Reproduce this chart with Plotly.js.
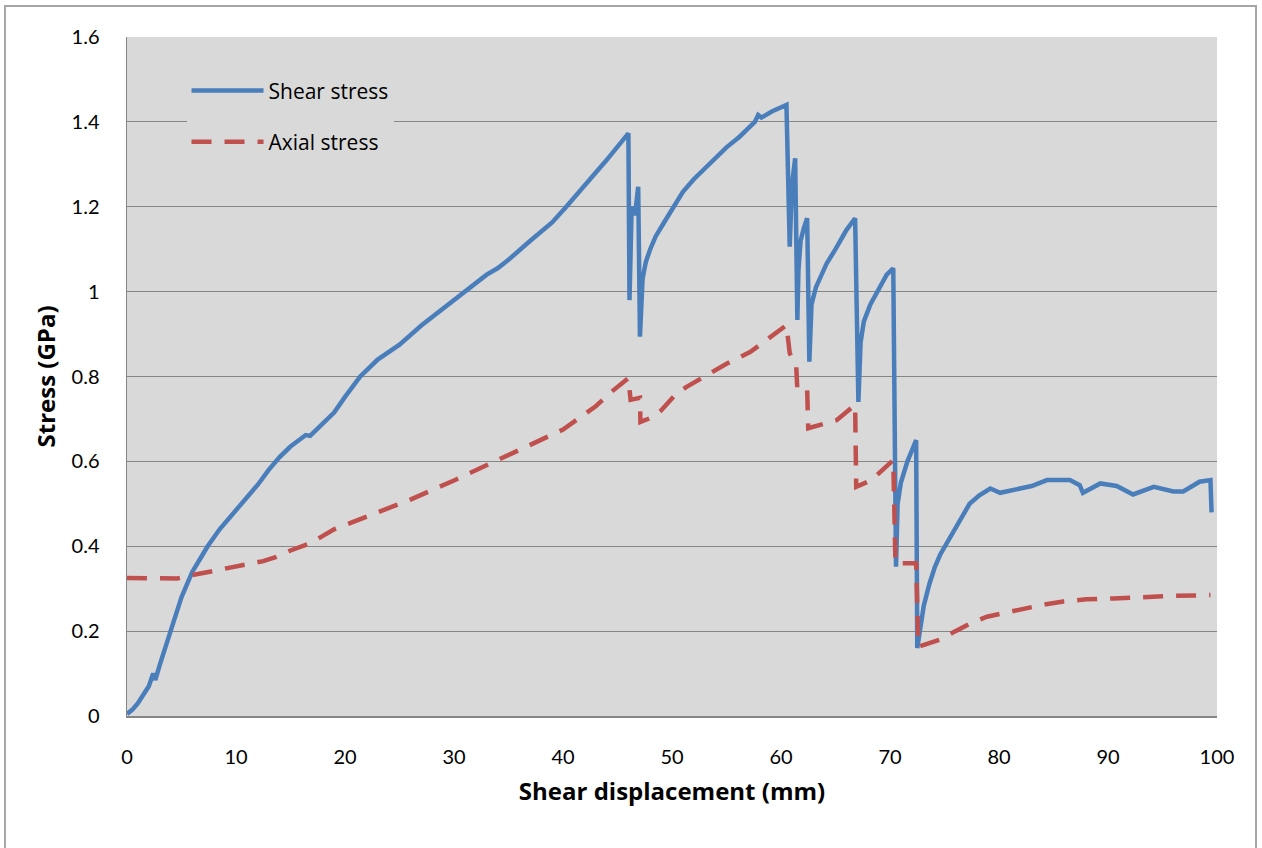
<!DOCTYPE html>
<html>
<head>
<meta charset="utf-8">
<script src="https://cdn.plot.ly/plotly-3.0.1.min.js"></script>
<style>
html,body{margin:0;padding:0;background:#fff;}
#chart{width:1262px;height:848px;}
</style>
</head>
<body>
<div id="chart"></div>
<script>
// Shear stress (GPa) vs shear displacement (mm)
const shearX = [0, 0.5, 1, 1.5, 2, 2.4, 2.6, 3, 3.5, 3.9, 4.5, 5, 5.5, 6, 6.7, 7.4, 8.5, 10, 11, 12, 13, 14, 15, 16.4, 16.8, 18, 19, 20, 21.4, 23, 25, 27, 29, 31, 33, 34, 35, 37, 39, 40.3, 42, 44, 46.0, 46.1, 46.3, 46.6, 46.9, 47.06, 47.3, 47.6, 48, 48.5, 49.2, 50, 51, 52, 53, 54, 55, 56.2, 57.6, 57.9, 58.2, 59.2, 60.5, 60.8, 61.0, 61.3, 61.5, 61.6, 61.8, 62.1, 62.4, 62.6, 62.8, 63.2, 63.7, 64.2, 65, 66, 66.8, 67.1, 67.3, 67.6, 68.2, 69, 69.7, 70.3, 70.55, 70.7, 71, 71.6, 72.1, 72.4, 72.5, 72.8, 73.1, 73.6, 74.1, 74.6, 75.5, 76.4, 77.3, 78.2, 79.2, 80.1, 81.9, 83, 84.4, 86.5, 87.4, 87.7, 89.3, 90.8, 92.3, 94.2, 96.0, 96.9, 98.4, 99.4, 99.5];
const shearY = [0.005, 0.015, 0.03, 0.05, 0.07, 0.1, 0.085, 0.12, 0.16, 0.2, 0.245, 0.28, 0.31, 0.34, 0.37, 0.4, 0.44, 0.485, 0.515, 0.545, 0.58, 0.61, 0.635, 0.662, 0.66, 0.69, 0.715, 0.752, 0.8, 0.84, 0.875, 0.92, 0.96, 1.0, 1.04, 1.055, 1.075, 1.12, 1.163, 1.2, 1.25, 1.31, 1.373, 0.98, 1.2, 1.18, 1.247, 0.894, 1.03, 1.07, 1.1, 1.13, 1.16, 1.195, 1.235, 1.265, 1.29, 1.315, 1.34, 1.365, 1.4, 1.416, 1.41, 1.425, 1.44, 1.106, 1.25, 1.314, 0.933, 1.05, 1.12, 1.15, 1.173, 0.835, 0.97, 1.01, 1.04, 1.067, 1.1, 1.145, 1.173, 0.74, 0.88, 0.93, 0.97, 1.01, 1.04, 1.055, 0.352, 0.5, 0.55, 0.6, 0.63, 0.65, 0.16, 0.22, 0.26, 0.31, 0.35, 0.38, 0.42, 0.46, 0.5, 0.52, 0.536, 0.526, 0.536, 0.542, 0.556, 0.556, 0.544, 0.526, 0.548, 0.542, 0.522, 0.54, 0.529, 0.529, 0.552, 0.556, 0.48];

// Axial stress (GPa) vs shear displacement (mm)
const axialX = [0, 3, 4.6, 6, 7.6, 9.5, 11, 12.5, 13.7, 15, 16.8, 19, 22, 26, 30, 35, 40, 43, 44.5, 46.0, 46.2, 47.06, 47.1, 48.3, 49, 49.6, 50.4, 51.3, 52.3, 55, 57.2, 60.5, 60.8, 61.4, 61.5, 62.4, 62.5, 65.1, 66.8, 66.9, 68.3, 70.3, 70.5, 72.4, 72.6, 73.5, 74.6, 76, 77.5, 78.9, 80.5, 82.2, 84, 85.9, 88, 90.5, 93.5, 96, 99.4];
const axialY = [0.325, 0.323, 0.324, 0.332, 0.34, 0.348, 0.356, 0.365, 0.375, 0.39, 0.407, 0.44, 0.47, 0.51, 0.555, 0.615, 0.675, 0.73, 0.765, 0.796, 0.745, 0.75, 0.693, 0.705, 0.72, 0.737, 0.76, 0.775, 0.79, 0.83, 0.858, 0.921, 0.855, 0.823, 0.768, 0.768, 0.678, 0.697, 0.733, 0.54, 0.556, 0.603, 0.36, 0.36, 0.163, 0.17, 0.18, 0.2, 0.22, 0.234, 0.243, 0.25, 0.262, 0.27, 0.275, 0.277, 0.281, 0.283, 0.285];

const xTicks = [0, 10, 20, 30, 40, 50, 60, 70, 80, 90, 100];
const yTicks = [0, 0.2, 0.4, 0.6, 0.8, 1, 1.2, 1.4, 1.6];
const yTickText = ["0", "0.2", "0.4", "0.6", "0.8", "1", "1.2", "1.4", "1.6"];

const FONT = "Lato, 'Open Sans', sans-serif";
const TFONT = "'Open Sans', Lato, sans-serif";

const traces = [
  {x: shearX, y: shearY, type: 'scatter', mode: 'lines', name: 'Shear stress', legendgroup: 'a',
   line: {color: '#4a7ebb', width: 4.5, shape: 'linear'}},
  {x: axialX, y: axialY, type: 'scatter', mode: 'lines', name: 'Axial stress', legendgroup: 'b',
   line: {color: '#c0504d', width: 4.5, dash: '20px,13px'}}
];

const layout = {
  width: 1262, height: 848,
  paper_bgcolor: '#ffffff', plot_bgcolor: '#d9d9d9',
  margin: {l: 127, r: 45, t: 37, b: 132},
  font: {family: FONT, size: 20, color: '#000'},
  showlegend: true,
  legend: {x: 0.0546, y: 0.951, xanchor: 'left', yanchor: 'top', bgcolor: '#d9d9d9',
           font: {family: TFONT, size: 21, color: '#000'}, itemwidth: 72, tracegroupgap: 21,
           traceorder: 'grouped'},
  xaxis: {range: [0, 100], tickvals: xTicks, ticktext: xTicks.map(String), showgrid: false,
          zeroline: false, showline: true, linecolor: '#868686', linewidth: 1.5, ticks: '',
          ticklabelstandoff: 22, tickfont: {family: FONT, size: 20},
          title: {text: '<b>Shear displacement (mm)</b>', font: {family: TFONT, size: 24}, standoff: 16}},
  yaxis: {range: [0, 1.6], tickvals: yTicks, ticktext: yTickText, showgrid: true, gridcolor: '#868686',
          gridwidth: 1.2, zeroline: false, showline: true, linecolor: '#868686', linewidth: 1.5, ticks: '',
          ticklabelstandoff: 22, tickfont: {family: FONT, size: 20},
          title: {text: '<b>Stress (GPa)</b>', font: {family: TFONT, size: 24}, standoff: 9}},
  shapes: [
    {type: 'rect', xref: 'paper', yref: 'paper', x0: -0.1119, x1: 1.0358, y0: -0.3, y1: 1.0457,
     line: {color: '#a6a6a6', width: 2}, fillcolor: 'rgba(0,0,0,0)', layer: 'below'}
  ]
};

Plotly.newPlot('chart', traces, layout, {displayModeBar: false, staticPlot: true});
</script>
</body>
</html>
